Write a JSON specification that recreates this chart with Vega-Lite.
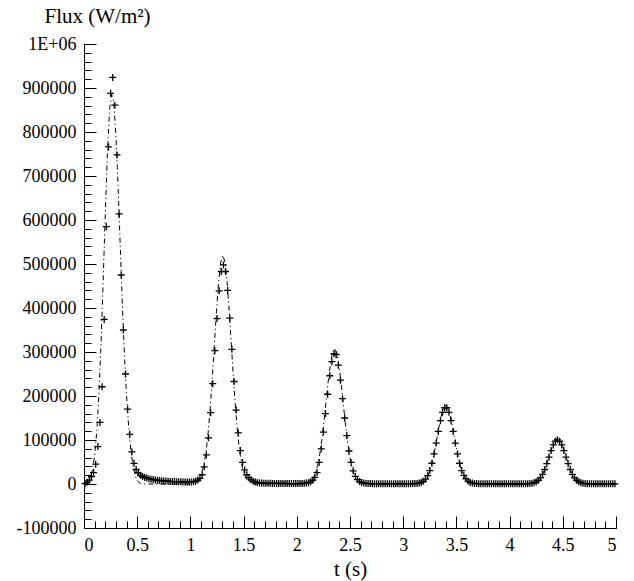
{
  "$schema": "https://vega.github.io/schema/vega-lite/v6.json",
  "width": 532,
  "height": 484,
  "autosize": {"type": "none"},
  "padding": {"left": 84, "top": 44, "right": 18, "bottom": 53},
  "background": "white",
  "config": {
    "view": {"stroke": null},
    "axis": {
      "grid": false,
      "domainColor": "black",
      "tickColor": "black",
      "labelColor": "black",
      "titleColor": "black",
      "domainWidth": 1,
      "tickWidth": 1
    }
  },
  "datasets": {
    "analytic": [
      {"t":0,"v":0},{"t":0.02,"v":2000},{"t":0.04,"v":6000},{"t":0.06,"v":15000},{"t":0.08,"v":33000},{"t":0.10,"v":65000},{"t":0.12,"v":119000},{"t":0.14,"v":204000},{"t":0.16,"v":319000},{"t":0.18,"v":460000},{"t":0.20,"v":613000},{"t":0.22,"v":751000},{"t":0.24,"v":850000},{"t":0.26,"v":885000},{"t":0.28,"v":870000},{"t":0.30,"v":790000},{"t":0.32,"v":680000},{"t":0.34,"v":545000},{"t":0.36,"v":410000},{"t":0.38,"v":295000},{"t":0.40,"v":200000},{"t":0.42,"v":130000},{"t":0.44,"v":78000},{"t":0.46,"v":42000},{"t":0.48,"v":20000},{"t":0.50,"v":8000},{"t":0.52,"v":3000},{"t":0.54,"v":1000},{"t":0.56,"v":0},
      {"t":1.005,"v":0},{"t":1.025,"v":1100},{"t":1.045,"v":2700},{"t":1.065,"v":5800},{"t":1.085,"v":11900},{"t":1.105,"v":22800},{"t":1.125,"v":41400},{"t":1.145,"v":70200},{"t":1.165,"v":112300},{"t":1.185,"v":169000},{"t":1.205,"v":238200},{"t":1.225,"v":315600},{"t":1.245,"v":392600},{"t":1.265,"v":458600},{"t":1.285,"v":503900},{"t":1.305,"v":520000},{"t":1.325,"v":503900},{"t":1.345,"v":458600},{"t":1.365,"v":392600},{"t":1.385,"v":315600},{"t":1.405,"v":238200},{"t":1.425,"v":169000},{"t":1.445,"v":112300},{"t":1.465,"v":70200},{"t":1.485,"v":41400},{"t":1.505,"v":22800},{"t":1.525,"v":11900},{"t":1.545,"v":5800},{"t":1.565,"v":2700},{"t":1.585,"v":1100},{"t":1.605,"v":0},
      {"t":2.055,"v":0},{"t":2.075,"v":700},{"t":2.095,"v":1600},{"t":2.115,"v":3400},{"t":2.135,"v":7000},{"t":2.155,"v":13500},{"t":2.175,"v":24500},{"t":2.195,"v":41600},{"t":2.215,"v":66500},{"t":2.235,"v":100100},{"t":2.255,"v":141100},{"t":2.275,"v":187000},{"t":2.295,"v":232500},{"t":2.315,"v":271600},{"t":2.335,"v":298500},{"t":2.355,"v":308000},{"t":2.375,"v":298500},{"t":2.395,"v":271600},{"t":2.415,"v":232500},{"t":2.435,"v":187000},{"t":2.455,"v":141100},{"t":2.475,"v":100100},{"t":2.495,"v":66500},{"t":2.515,"v":41600},{"t":2.535,"v":24500},{"t":2.555,"v":13500},{"t":2.575,"v":7000},{"t":2.595,"v":3400},{"t":2.615,"v":1600},{"t":2.635,"v":700},{"t":2.655,"v":0},
      {"t":3.12,"v":0},{"t":3.14,"v":900},{"t":3.16,"v":2000},{"t":3.18,"v":4100},{"t":3.20,"v":7800},{"t":3.22,"v":14200},{"t":3.24,"v":24000},{"t":3.26,"v":38400},{"t":3.28,"v":57900},{"t":3.30,"v":81500},{"t":3.32,"v":108000},{"t":3.34,"v":134400},{"t":3.36,"v":157000},{"t":3.38,"v":172500},{"t":3.40,"v":178000},{"t":3.42,"v":172500},{"t":3.44,"v":157000},{"t":3.46,"v":134400},{"t":3.48,"v":108000},{"t":3.50,"v":81500},{"t":3.52,"v":57900},{"t":3.54,"v":38400},{"t":3.56,"v":24000},{"t":3.58,"v":14200},{"t":3.60,"v":7800},{"t":3.62,"v":4100},{"t":3.64,"v":2000},{"t":3.66,"v":900},{"t":3.68,"v":0},
      {"t":4.18,"v":0},{"t":4.20,"v":800},{"t":4.22,"v":1600},{"t":4.24,"v":3300},{"t":4.26,"v":6100},{"t":4.28,"v":10800},{"t":4.30,"v":17700},{"t":4.32,"v":27500},{"t":4.34,"v":40100},{"t":4.36,"v":54700},{"t":4.38,"v":70200},{"t":4.40,"v":84800},{"t":4.42,"v":96000},{"t":4.44,"v":102200},{"t":4.45,"v":103000},{"t":4.46,"v":102200},{"t":4.48,"v":96000},{"t":4.50,"v":84800},{"t":4.52,"v":70200},{"t":4.54,"v":54700},{"t":4.56,"v":40100},{"t":4.58,"v":27500},{"t":4.60,"v":17700},{"t":4.62,"v":10800},{"t":4.64,"v":6100},{"t":4.66,"v":3300},{"t":4.68,"v":1600},{"t":4.70,"v":800},{"t":4.72,"v":0},{"t":5.0,"v":0}
    ],
    "numeric": [
      {"t":0.01,"v":1000},{"t":0.03,"v":4000},{"t":0.05,"v":9000},{"t":0.07,"v":16600},{"t":0.09,"v":26000},{"t":0.11,"v":45000},{"t":0.13,"v":85000},{"t":0.15,"v":140000},{"t":0.17,"v":221000},{"t":0.19,"v":374000},{"t":0.21,"v":585000},{"t":0.23,"v":766000},{"t":0.25,"v":888000},{"t":0.27,"v":924000},{"t":0.29,"v":861000},{"t":0.31,"v":748000},{"t":0.33,"v":614000},{"t":0.35,"v":475000},{"t":0.37,"v":350000},{"t":0.39,"v":250000},{"t":0.41,"v":170000},{"t":0.43,"v":113000},{"t":0.45,"v":73000},{"t":0.47,"v":47000},{"t":0.49,"v":33000},{"t":0.51,"v":25000},{"t":0.53,"v":20000},{"t":0.55,"v":17000},{"t":0.57,"v":15000},{"t":0.59,"v":13500},{"t":0.61,"v":12000},{"t":0.63,"v":11000},{"t":0.65,"v":10000},{"t":0.67,"v":9200},{"t":0.69,"v":8500},{"t":0.71,"v":8000},{"t":0.73,"v":7500},{"t":0.75,"v":7000},{"t":0.77,"v":6600},{"t":0.79,"v":6200},{"t":0.81,"v":5900},{"t":0.83,"v":5600},{"t":0.85,"v":5400},{"t":0.87,"v":5200},{"t":0.89,"v":5000},{"t":0.91,"v":4900},{"t":0.93,"v":4800},{"t":0.95,"v":4700},{"t":0.97,"v":4700},{"t":0.99,"v":4700},{"t":1.01,"v":4800},{"t":1.03,"v":5200},{"t":1.05,"v":6200},
      {"t":1.07,"v":9000},{"t":1.09,"v":13000},{"t":1.11,"v":21000},{"t":1.13,"v":39000},{"t":1.15,"v":66000},{"t":1.17,"v":105000},{"t":1.19,"v":162000},{"t":1.21,"v":228000},{"t":1.23,"v":303000},{"t":1.25,"v":376000},{"t":1.27,"v":439000},{"t":1.29,"v":483000},{"t":1.31,"v":498000},{"t":1.33,"v":483000},{"t":1.35,"v":440000},{"t":1.37,"v":377000},{"t":1.39,"v":306000},{"t":1.41,"v":233000},{"t":1.43,"v":168000},{"t":1.45,"v":116000},{"t":1.47,"v":76000},{"t":1.49,"v":49000},{"t":1.51,"v":32000},{"t":1.53,"v":21000},{"t":1.55,"v":14000},{"t":1.57,"v":9500},{"t":1.59,"v":6500},{"t":1.61,"v":4500},{"t":1.63,"v":3200},{"t":1.65,"v":2500},{"t":1.67,"v":2000},{"t":1.69,"v":1800},{"t":1.71,"v":1600},{"t":1.73,"v":1500},{"t":1.75,"v":1500},{"t":1.77,"v":1400},{"t":1.79,"v":1400},{"t":1.81,"v":1300},{"t":1.83,"v":1300},{"t":1.85,"v":1200},{"t":1.87,"v":1200},{"t":1.89,"v":1100},{"t":1.91,"v":1100},{"t":1.93,"v":1000},{"t":1.95,"v":1000},{"t":1.97,"v":1000},{"t":1.99,"v":1000},{"t":2.01,"v":1000},{"t":2.03,"v":1100},{"t":2.05,"v":1200},
      {"t":2.07,"v":1500},{"t":2.09,"v":2000},{"t":2.11,"v":3000},{"t":2.13,"v":5000},{"t":2.15,"v":8500},{"t":2.17,"v":15000},{"t":2.19,"v":26000},{"t":2.21,"v":49000},{"t":2.23,"v":80000},{"t":2.25,"v":118000},{"t":2.27,"v":160000},{"t":2.29,"v":204000},{"t":2.31,"v":246000},{"t":2.33,"v":278000},{"t":2.35,"v":296000},{"t":2.37,"v":294000},{"t":2.39,"v":270000},{"t":2.41,"v":236000},{"t":2.43,"v":194000},{"t":2.45,"v":150000},{"t":2.47,"v":110000},{"t":2.49,"v":75000},{"t":2.51,"v":49000},{"t":2.53,"v":30000},{"t":2.55,"v":17500},{"t":2.57,"v":10000},{"t":2.59,"v":5500},{"t":2.61,"v":3200},{"t":2.63,"v":2000},{"t":2.65,"v":1300},{"t":2.67,"v":1000},{"t":2.69,"v":900},{"t":2.71,"v":800},
      {"t":2.73,"v":800},{"t":2.75,"v":800},{"t":2.77,"v":800},{"t":2.79,"v":800},{"t":2.81,"v":800},{"t":2.83,"v":800},{"t":2.85,"v":800},{"t":2.87,"v":800},{"t":2.89,"v":800},{"t":2.91,"v":800},{"t":2.93,"v":700},{"t":2.95,"v":700},{"t":2.97,"v":700},{"t":2.99,"v":700},{"t":3.01,"v":700},{"t":3.03,"v":700},{"t":3.05,"v":700},{"t":3.07,"v":800},{"t":3.09,"v":900},{"t":3.11,"v":1000},
      {"t":3.13,"v":1300},{"t":3.15,"v":2000},{"t":3.17,"v":3500},{"t":3.19,"v":6300},{"t":3.21,"v":11100},{"t":3.23,"v":19000},{"t":3.25,"v":30600},{"t":3.27,"v":47200},{"t":3.29,"v":68400},{"t":3.31,"v":93100},{"t":3.33,"v":119400},{"t":3.35,"v":143900},{"t":3.37,"v":162900},{"t":3.39,"v":173300},{"t":3.41,"v":173300},{"t":3.43,"v":162900},{"t":3.45,"v":143900},{"t":3.47,"v":119400},{"t":3.49,"v":93100},{"t":3.51,"v":68400},{"t":3.53,"v":47200},{"t":3.55,"v":30600},{"t":3.57,"v":19500},{"t":3.59,"v":11500},{"t":3.61,"v":6500},{"t":3.63,"v":3600},{"t":3.65,"v":2000},{"t":3.67,"v":1300},{"t":3.69,"v":1000},
      {"t":3.71,"v":700},{"t":3.73,"v":700},{"t":3.75,"v":600},{"t":3.77,"v":600},{"t":3.79,"v":600},{"t":3.81,"v":600},{"t":3.83,"v":600},{"t":3.85,"v":600},{"t":3.87,"v":500},{"t":3.89,"v":500},{"t":3.91,"v":500},{"t":3.93,"v":500},{"t":3.95,"v":500},{"t":3.97,"v":500},{"t":3.99,"v":500},{"t":4.01,"v":500},{"t":4.03,"v":500},{"t":4.05,"v":500},{"t":4.07,"v":500},{"t":4.09,"v":500},{"t":4.11,"v":500},{"t":4.13,"v":600},{"t":4.15,"v":700},{"t":4.17,"v":800},
      {"t":4.19,"v":1000},{"t":4.21,"v":1600},{"t":4.23,"v":2800},{"t":4.25,"v":4900},{"t":4.27,"v":8500},{"t":4.29,"v":14000},{"t":4.31,"v":22100},{"t":4.33,"v":33000},{"t":4.35,"v":46300},{"t":4.37,"v":61200},{"t":4.39,"v":76000},{"t":4.41,"v":88700},{"t":4.43,"v":97400},{"t":4.45,"v":100500},{"t":4.47,"v":97400},{"t":4.49,"v":88700},{"t":4.51,"v":76000},{"t":4.53,"v":61200},{"t":4.55,"v":46300},{"t":4.57,"v":33000},{"t":4.59,"v":22100},{"t":4.61,"v":14000},{"t":4.63,"v":8500},{"t":4.65,"v":4900},{"t":4.67,"v":2800},{"t":4.69,"v":1600},{"t":4.71,"v":1000},
      {"t":4.73,"v":700},{"t":4.75,"v":600},{"t":4.77,"v":500},{"t":4.79,"v":500},{"t":4.81,"v":500},{"t":4.83,"v":500},{"t":4.85,"v":500},{"t":4.87,"v":500},{"t":4.89,"v":500},{"t":4.91,"v":500},{"t":4.93,"v":500},{"t":4.95,"v":500},{"t":4.97,"v":500},{"t":4.99,"v":500}
    ]
  },
  "layer": [
    {
      "data": {"name": "numeric"},
      "mark": {"type": "point", "shape": "M-1,0L1,0M0,-1L0,1", "filled": false, "stroke": "black", "strokeWidth": 1.3, "size": 49, "opacity": 1},
      "encoding": {
        "x": {
          "field": "t", "type": "quantitative",
          "scale": {"domain": [0, 5], "nice": false, "zero": false},
          "axis": {
            "orient": "bottom",
            "values": [0,0.1,0.2,0.3,0.4,0.5,0.6,0.7,0.8,0.9,1,1.1,1.2,1.3,1.4,1.5,1.6,1.7,1.8,1.9,2,2.1,2.2,2.3,2.4,2.5,2.6,2.7,2.8,2.9,3,3.1,3.2,3.3,3.4,3.5,3.6,3.7,3.8,3.9,4,4.1,4.2,4.3,4.4,4.5,4.6,4.7,4.8,4.9,5],
            "tickSize": -7,
            "labels": false,
            "domain": false,
            "title": null
          }
        },
        "y": {
          "field": "v", "type": "quantitative",
          "scale": {"domain": [-100000, 1000000], "nice": false, "zero": false},
          "axis": {
            "orient": "left",
            "values": [-100000,-80000,-60000,-40000,-20000,0,20000,40000,60000,80000,100000,120000,140000,160000,180000,200000,220000,240000,260000,280000,300000,320000,340000,360000,380000,400000,420000,440000,460000,480000,500000,520000,540000,560000,580000,600000,620000,640000,660000,680000,700000,720000,740000,760000,780000,800000,820000,840000,860000,880000,900000,920000,940000,960000,980000,1000000],
            "tickSize": -7,
            "labels": false,
            "domain": false,
            "title": null
          }
        }
      }
    },
    {
      "data": {"name": "analytic"},
      "mark": {"type": "line", "color": "black", "strokeWidth": 1, "strokeDash": [5, 3, 1.2, 3], "clip": true},
      "encoding": {
        "x": {
          "field": "t", "type": "quantitative",
          "axis": {
            "orient": "bottom",
            "values": [0, 0.5, 1, 1.5, 2, 2.5, 3, 3.5, 4, 4.5, 5],
            "format": "~g",
            "tickSize": -12,
            "labelPadding": 34,
            "labelBaseline": "alphabetic",
            "labelFont": "Liberation Serif",
            "titleFont": "Liberation Serif",
            "labelFontSize": 18,
            "titleFontSize": 21,
            "titleFontWeight": "normal",
            "title": "t (s)"
          }
        },
        "y": {
          "field": "v", "type": "quantitative",
          "axis": {
            "orient": "left",
            "values": [-100000, 0, 100000, 200000, 300000, 400000, 500000, 600000, 700000, 800000, 900000, 1000000],
            "tickSize": -12,
            "labelPadding": 20,
            "labelBaseline": "middle",
            "labelExpr": "datum.value == 1000000 ? '1E+06' : '' + datum.value",
            "labelFont": "Liberation Serif",
            "titleFont": "Liberation Serif",
            "labelFontSize": 18,
            "titleFontSize": 21,
            "titleFontWeight": "normal",
            "title": "Flux (W/m²)",
            "titleAngle": 0,
            "titleAlign": "center",
            "titleBaseline": "alphabetic",
            "titleX": 13,
            "titleY": -22
          }
        }
      }
    }
  ],
  "resolve": {"axis": {"x": "independent", "y": "independent"}}
}
